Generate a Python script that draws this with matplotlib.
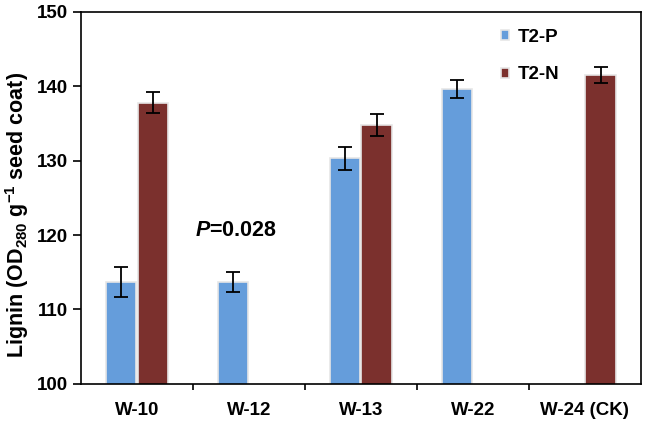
import matplotlib
matplotlib.use('Agg')
import matplotlib.pyplot as plt
import numpy as np

# data
categories = ['W-10', 'W-12', 'W-13', 'W-22', 'W-24 (CK)']
t2p = [113.7, 113.7, 130.3, 139.6, np.nan]
t2p_err = [2.0, 1.4, 1.5, 1.2, np.nan]
t2n = [137.8, np.nan, 134.8, np.nan, 141.5]
t2n_err = [1.4, np.nan, 1.5, np.nan, 1.1]

blue = '#659ddb'
red = '#7b302d'

plt.rcParams['font.family'] = ['Liberation Sans', 'DejaVu Sans']
plt.rcParams['font.weight'] = 'bold'
plt.rcParams['mathtext.fontset'] = 'custom'
plt.rcParams['mathtext.rm'] = 'Liberation Sans:bold'
plt.rcParams['mathtext.it'] = 'Liberation Sans:bold:italic'
plt.rcParams['mathtext.bf'] = 'Liberation Sans:bold'

fig = plt.figure(figsize=(6.48, 4.26), dpi=100)
ax = fig.add_axes([0.125, 0.099, 0.864, 0.873])

x = np.arange(len(categories))
w = 0.27
off = 0.14
errkw = dict(ecolor='black', capsize=5, elinewidth=1.3, capthick=1.3)
ax.bar(x - off, t2p, w, color=blue, edgecolor='#e6e6e6', linewidth=1.2,
       yerr=t2p_err, error_kw=errkw, label='T2-P')
ax.bar(x + off, t2n, w, color=red, edgecolor='#e6e6e6', linewidth=1.2,
       yerr=t2n_err, error_kw=errkw, label='T2-N')

ax.set_ylim(100, 150)
ax.set_xlim(-0.5, len(categories) - 0.5)
ax.set_yticks(range(100, 151, 10))
ax.set_xticks(x)
ax.set_xticklabels(categories)
ax.set_xticks(np.arange(0.5, len(categories) - 1, 1), minor=True)
ax.tick_params(axis='x', which='major', length=0, pad=13, labelsize=13.5)
ax.tick_params(axis='x', which='minor', length=4, width=1.2, direction='out')
ax.tick_params(axis='y', length=6, width=1.2, direction='out', labelsize=13.5)
for s in ax.spines.values():
    s.set_linewidth(1.2)

ax.set_ylabel(r'Lignin (OD$_{280}$ g$^{-1}$ seed coat)', fontsize=15.5,
              fontweight='bold')
ax.yaxis.set_label_coords(-0.09, 0.455)

ax.text(0.88, 120.6, r'$P$=0.028', fontsize=15.5, fontweight='bold',
        ha='center', va='center')

ax.legend(loc='upper left', bbox_to_anchor=(0.72, 1.0), frameon=False,
          fontsize=13.5, handlelength=0.45, handleheight=0.45,
          handletextpad=0.45, labelspacing=1.1)

fig.savefig('out.png', dpi=100)
